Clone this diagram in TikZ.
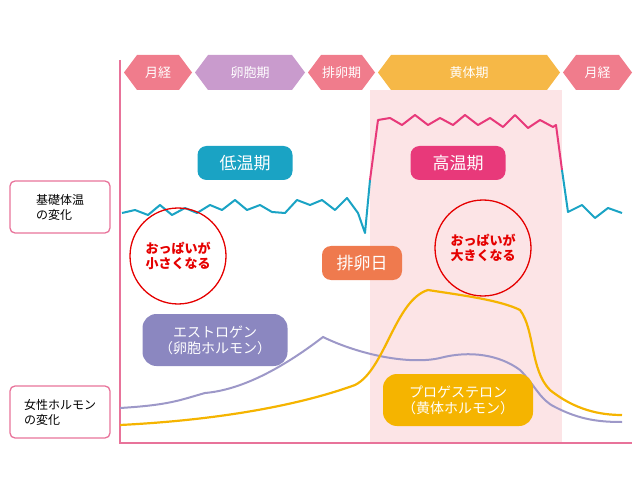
\documentclass[tikz,border=0pt]{standalone}
\usepackage{fontspec}
\setmainfont{Noto Sans CJK JP}
\begin{document}
\begin{tikzpicture}[x=1pt,y=-1pt,
  lab/.style={rounded corners=9pt,text=white,font=\fontsize{17}{19}\selectfont,minimum height=34pt,inner sep=0pt},
  hlab/.style={rounded corners=14pt,text=white,font=\fontsize{14}{16}\selectfont,align=center,minimum height=52pt,inner sep=0pt},
  side/.style={draw=axis,line width=1.3pt,rounded corners=5pt,font=\fontsize{12}{15}\selectfont,align=left,minimum width=100pt,minimum height=52pt,inner sep=2pt},
  circ/.style={circle,draw=red!90!black,line width=1.3pt,minimum size=96pt,text=red!90!black,font=\bfseries\fontsize{13}{15}\selectfont,align=center,inner sep=0pt},
  atext/.style={text=white,font=\fontsize{13}{15}\selectfont}]
\definecolor{axis}{HTML}{E8739A}
\definecolor{band}{HTML}{FCE4E6}
\definecolor{mens}{HTML}{F07C8C}
\definecolor{foll}{HTML}{C99BCD}
\definecolor{lut}{HTML}{F6B847}
\definecolor{blueT}{HTML}{1AA3C4}
\definecolor{pinkT}{HTML}{E8397A}
\definecolor{ovu}{HTML}{EF7A4E}
\definecolor{estr}{HTML}{9D98C8}
\definecolor{estrB}{HTML}{8B87C0}
\definecolor{prog}{HTML}{F5B400}
\useasboundingbox (0,0) rectangle (640,497);
\fill[band] (370,90) rectangle (562,443);
\newcommand{\blk}[5]{\fill[#3] (#1,72.5)--(#1+13,55)--(#2-13,55)--(#2,72.5)--(#2-13,90)--(#1+13,90)--cycle;
  \node[atext] (#5) at ({(#1+#2)/2},72.5) {#4};}
\blk{124}{192}{mens}{月経}{a1}
\blk{195}{305}{foll}{卵胞期}{a2}
\blk{308}{375}{mens}{排卵期}{a3}
\blk{378}{560}{lut}{黄体期}{a4}
\blk{563}{632}{mens}{月経}{a5}
\draw[axis,line width=1.3pt] (120,60)--(120,443)--(632,443);
\node[side] (s1) at (60,207) {基礎体温\\の変化};
\node[side] (s2) at (60,412) {女性ホルモン\\の変化};
\draw[blueT,line width=2pt,line join=round] (122,213)--(135,210)--(148,215)--(160,205)--(172,215)--(185,208)--(197,213)--(210,205)--(222,210)--(235,200)--(247,210)--(260,205)--(272,212)--(285,213)--(297,200)--(310,205)--(322,200)--(335,210)--(347,198)--(358,213)--(365,233)--(370,180);
\draw[pinkT,line width=2pt,line join=round] (370,180)--(378,120)--(390,118)--(402,125)--(415,115)--(428,125)--(440,118)--(453,125)--(465,115)--(478,125)--(490,118)--(503,127)--(515,115)--(528,128)--(540,120)--(553,127)--(556,125)--(562,170);
\draw[blueT,line width=2pt,line join=round] (562,170)--(568,212)--(582,205)--(595,218)--(608,208)--(622,213);
\node[lab,fill=blueT,minimum width=95pt] (low) at (245,163) {低温期};
\node[lab,fill=pinkT,minimum width=95pt] (high) at (458,163) {高温期};
\node[lab,fill=ovu,minimum width=80pt] (ov) at (362,263) {排卵日};
\node[circ] (c1) at (178,256) {おっぱいが\\小さくなる};
\node[circ] (c2) at (483,248) {おっぱいが\\大きくなる};
\draw[estr,line width=2pt] (120,408) .. controls (170,405) and (180,400) .. (205,393) .. controls (240,390) and (280,370) .. (323,337) .. controls (360,355) and (410,365) .. (440,358) .. controls (470,350) and (500,355) .. (520,370) .. controls (535,385) and (540,400) .. (555,407) .. controls (580,420) and (600,422) .. (622,422);
\draw[prog,line width=2.2pt] (120,425) .. controls (220,420) and (300,405) .. (355,385) .. controls (385,370) and (395,300) .. (428,290) .. controls (460,295) and (500,300) .. (520,310) .. controls (535,330) and (530,370) .. (550,390) .. controls (575,410) and (600,415) .. (622,415);
\node[hlab,fill=estrB,minimum width=145pt] (e) at (215,340) {エストロゲン\\（卵胞ホルモン）};
\node[hlab,fill=prog,minimum width=150pt] (p) at (458,400) {プロゲステロン\\（黄体ホルモン）};
\end{tikzpicture}
\end{document}
